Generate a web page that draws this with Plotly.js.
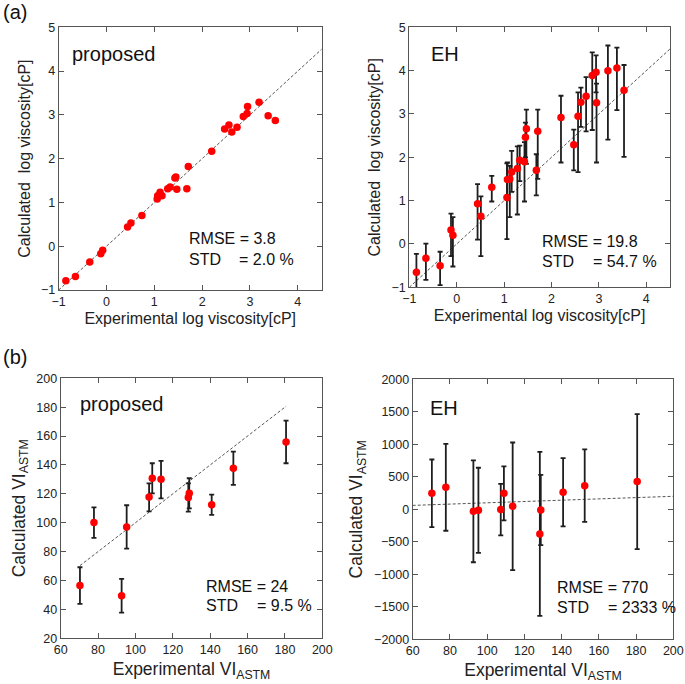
<!DOCTYPE html>
<html>
<head>
<meta charset="utf-8">
<script src="https://cdn.plot.ly/plotly-3.0.1.min.js"></script>
<style>html,body{margin:0;padding:0;background:#fff;}#chart{width:685px;height:684px;}</style>
</head>
<body>
<div id="chart"></div>
<script>
// ---------- Panel (a): log viscosity ----------
var expLog = [-0.85,-0.65,-0.35,-0.12,-0.08,0.44,0.51,0.74,1.06,1.07,1.12,1.16,1.28,1.33,1.43,1.45,1.47,1.68,1.71,2.20,2.47,2.56,2.62,2.73,2.86,2.94,2.95,3.19,3.38,3.53];
var propLog = [-0.79,-0.69,-0.36,-0.17,-0.09,0.44,0.53,0.70,1.08,1.15,1.23,1.15,1.31,1.35,1.56,1.58,1.30,1.31,1.82,2.17,2.68,2.77,2.61,2.72,2.96,3.03,3.19,3.29,2.98,2.87];
var ehLog = [-0.65,-0.33,-0.50,0.32,0.20,0.93,0.64,1.31,1.07,1.49,1.50,1.66,1.74,1.93,1.90,2.46,2.66,1.70,2.60,2.92,2.29,2.95,3.27,3.41,3.89,3.96,3.26,4.00,4.06,3.55];
var ehLogErrUp = [0.42,0.34,0.32,0.38,0.42,0.45,0.46,0.26,0.79,0.39,0.30,0.49,0.51,0.34,0.45,0.34,0.44,0.37,0.50,0.50,0.35,0.55,0.34,0.44,0.53,0.39,0.44,0.58,0.47,0.58];
var ehLogErrDown = [0.42,0.50,0.45,0.60,0.72,0.83,0.92,0.33,0.96,0.39,0.88,0.46,1.06,0.48,0.92,0.46,0.81,0.58,1.10,1.04,0.59,1.29,0.57,0.81,1.26,0.46,1.38,1.59,0.97,1.54];
var logRange = [-1, 4.5];
var logYRange = [-1, 5];

// ---------- Panel (b): viscosity index ----------
var expVI = [70.3,77.8,92.6,95.3,107.3,109.0,113.7,128.3,128.8,140.8,152.4,180.6];
var propVI = [56.5,100.1,49.5,97.1,117.8,130.8,130.1,117.4,120.4,112.5,137.7,155.9];
var propVIErrUp = [12.7,10.6,11.6,15.0,9.5,10.4,12.7,9.9,10.4,7.0,11.5,14.8];
var propVIErrDown = [12.7,10.6,11.7,15.0,9.9,10.4,13.2,9.7,10.4,7.1,11.5,14.7];
var ehVI = [246,338,-31,-15,-5,246,46,-379,-10,262,364,426];
var ehVIErr = [520,668,784,654,395,415,982,1262,540,526,559,1038];
var viRange = [60, 200];
var propVIYRange = [20, 200];
var ehVIYRange = [-2000, 2000];

// ---------- Statistics text ----------
var statRMSE = ['3.8', '19.8', '24', '770'];
var statSTD = ['2.0 %', '54.7 %', '9.5 %', '2333 %'];

var FONT = 'Liberation Sans, Arial, Helvetica, sans-serif';
var RED = '#ff0000';
var ERR = '#1e1e1e';

function pts(x, y, xa, ya, err) {
  var t = {x: x, y: y, xaxis: xa, yaxis: ya, type: 'scatter', mode: 'markers',
    marker: {color: RED, size: 7.5}, showlegend: false, hoverinfo: 'x+y'};
  if (err) t.error_y = err;
  return t;
}
function diag(x0, x1, xa, ya) {
  return {x: [x0, x1], y: [x0, x1], xaxis: xa, yaxis: ya, type: 'scatter', mode: 'lines',
    line: {color: '#555', width: 1, dash: '3px,2px'}, showlegend: false, hoverinfo: 'skip'};
}
function errArr(up, down) {
  return {type: 'data', array: up, arrayminus: down, symmetric: false, visible: true,
    color: ERR, thickness: 1.8, width: 2.5};
}

var minVI = Math.min.apply(null, expVI), maxVI = Math.max.apply(null, expVI);

var data = [
  diag(logRange[0], logRange[1], 'x', 'y'),
  pts(expLog, propLog, 'x', 'y'),
  diag(logRange[0], logRange[1], 'x2', 'y2'),
  pts(expLog, ehLog, 'x2', 'y2', errArr(ehLogErrUp, ehLogErrDown)),
  diag(minVI, maxVI, 'x3', 'y3'),
  pts(expVI, propVI, 'x3', 'y3', errArr(propVIErrUp, propVIErrDown)),
  diag(viRange[0], viRange[1], 'x4', 'y4'),
  pts(expVI, ehVI, 'x4', 'y4', errArr(ehVIErr, ehVIErr))
];

function ax(extra) {
  var base = {showline: true, linecolor: '#555', linewidth: 1, mirror: 'allticks',
    ticks: 'inside', ticklen: 5, tickcolor: '#555', tickwidth: 1, showgrid: false, zeroline: false,
    tickfont: {family: FONT, size: 12.5, color: '#222'}, automargin: false, fixedrange: true};
  for (var k in extra) base[k] = extra[k];
  return base;
}
var W = 685, H = 684;
function dx(a, b) { return [a / W, b / W]; }
function dy(top, bottom) { return [1 - bottom / H, 1 - top / H]; }

var logXTitle = {text: 'Experimental log viscosity[cP]', font: {family: FONT, size: 16, color: '#222'}, standoff: 4};
var logYTitle = {text: 'Calculated\u00a0\u00a0log viscosity[cP]', font: {family: FONT, size: 16, color: '#222'}, standoff: 6};
var viXTitle = {text: 'Experimental VI<sub>ASTM</sub>', font: {family: FONT, size: 17.5, color: '#222'}, standoff: 6};
var viYTitle = {text: 'Calculated VI<sub>ASTM</sub>', font: {family: FONT, size: 17.5, color: '#222'}, standoff: 6};

var layout = {
  width: W, height: H,
  margin: {l: 0, r: 0, t: 0, b: 0},
  paper_bgcolor: '#fff', plot_bgcolor: '#fff',
  font: {family: FONT, color: '#222'},
  showlegend: false,
  xaxis: ax({domain: dx(58.7, 321.7), range: logRange, dtick: 1, tick0: 0, anchor: 'y', title: logXTitle}),
  yaxis: ax({domain: dy(27.3, 290), range: logYRange, dtick: 1, tick0: 0, anchor: 'x', title: logYTitle}),
  xaxis2: ax({domain: dx(409.3, 670), range: logRange, dtick: 1, tick0: 0, anchor: 'y2', title: logXTitle}),
  yaxis2: ax({domain: dy(27.3, 287.3), range: logYRange, dtick: 1, tick0: 0, anchor: 'x2', title: logYTitle}),
  xaxis3: ax({domain: dx(60.7, 322.3), range: viRange, dtick: 20, anchor: 'y3', title: viXTitle}),
  yaxis3: ax({domain: dy(378.3, 638.3), range: propVIYRange, dtick: 20, anchor: 'x3', title: viYTitle}),
  xaxis4: ax({domain: dx(412.7, 673.3), range: viRange, dtick: 20, anchor: 'y4', title: viXTitle}),
  yaxis4: ax({domain: dy(379.3, 639.3), range: ehVIYRange, dtick: 500, anchor: 'x4', title: viYTitle}),
  annotations: []
};

function ann(text, px, py, size, xanchor) {
  layout.annotations.push({text: text, x: px / W, y: 1 - py / H, xref: 'paper', yref: 'paper',
    xanchor: xanchor || 'left', yanchor: 'middle', showarrow: false,
    font: {family: FONT, size: size, color: '#111'}});
}
ann('(a)', 1, 12, 20);
ann('(b)', 1, 357, 20);
ann('proposed', 70, 54, 20);
ann('EH', 428.5, 54, 20);
ann('proposed', 77.5, 404, 20);
ann('EH', 427.5, 408, 20);
// RMSE / STD texts, positions per panel
var statPos = [
  {x: 186.7, y1: 239, y2: 259},
  {x: 540, y1: 241, y2: 261},
  {x: 204, y1: 586, y2: 605},
  {x: 555, y1: 587.5, y2: 607}
];
statPos.forEach(function (p, i) {
  ann('RMSE = ' + statRMSE[i], p.x, p.y1, 16);
  ann('STD', p.x, p.y2, 16);
  ann('= ' + statSTD[i], p.x + 50.7, p.y2, 16);
});

Plotly.newPlot('chart', data, layout, {displayModeBar: false, staticPlot: true});
</script>
</body>
</html>
